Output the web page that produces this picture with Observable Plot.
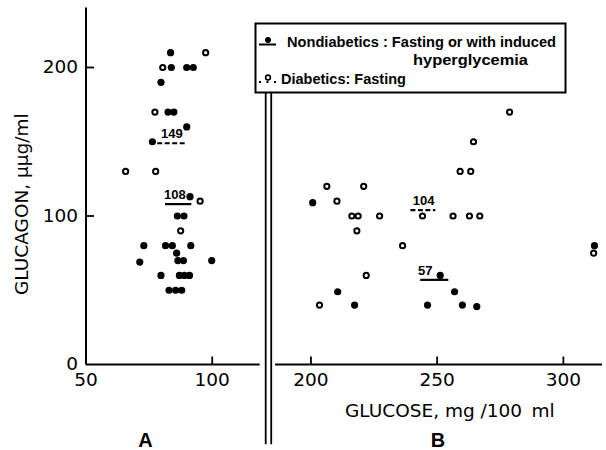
<!DOCTYPE html>
<html><head><meta charset="utf-8">
<script src="https://cdn.jsdelivr.net/npm/d3@7"></script>
<script src="https://cdn.jsdelivr.net/npm/@observablehq/plot@0.6"></script>
<style>
html,body{margin:0;padding:0;background:#fff;}
#chart{position:relative;width:606px;height:450px;overflow:hidden;}
#legend{position:absolute;left:0;top:0;pointer-events:none;}
</style></head><body><div id="chart"></div>
<script>
// ---- Data: [glucose mg/100 ml, glucagon µµg/ml] ----
// Panel A (fasting / induced hyperglycemia)
const nondiabeticA = [[83.5,210],[83.8,200],[89.9,200],[92.5,200],[79.7,190],[82.5,170],[84.8,170],[89.9,160],[76.3,150],
  [91.2,113],[86.2,100],[88.8,100],[72.9,80],[81.5,80],[84.2,80],[91.5,80],[85.9,75],[71.3,69],[86.4,70],[88.6,70],[99.8,70],
  [79.7,60],[87,60],[89,60],[91,60],[82.9,50],[85.5,50],[87.9,50]];
const diabeticA = [[97.4,210],[80.4,200],[77.3,170],[65.7,130],[77.6,130],[95.2,110],[87.5,90]];
// Panel B
const nondiabeticB = [[200.7,109],[210.6,49],[217.3,40],[246.2,40],[251.2,60],[256.9,49],[260,40],[265.7,39],[312.3,80]];
const diabeticB = [[206.3,120],[220.9,120],[210.3,110],[216.2,100],[218.7,100],[227.2,100],[218.2,90],[236.3,80],[221.9,60],
  [203.4,40],[244.2,100],[278.7,170],[264.4,150],[259.1,130],[263.3,130],[256.3,100],[262.8,100],[266.9,100],[312,75]];

// Group means
const meanValues = [149, 108, 104, 57];
const meanGroups = ["diabetic", "nondiabetic", "diabetic", "nondiabetic"];
const meanX1 = [78.4, 81.5, 239.6, 243.5];
const meanX2 = [89.5, 91.9, 249.5, 254.6];
const meanLabelX = [84, 85.2, 244.6, 245.3];

// Axes
const xTicks = [100, 200, 250, 300];
const xTickLabels = [50, 100, 200, 250, 300];
const yTicks = [100, 200];
const yTickLabels = [0, 100, 200];
const panelA = [50, 119];
const panelB = [186, 315.5];
const breakX = [143, 167];
const panelLetters = ["A", "B"];
const panelLetterX = [73.6, 250.3];
const xTitle = "GLUCOSE, mg /100\u2002ml";
const yTitle = "GLUCAGON, \u03bc\u03bcg/ml";
const legendRows = ["Nondiabetics : Fasting or with induced", "hyperglycemia", "Diabetics: Fasting"];

// broken axis: the gap between panel A and panel B is squeezed to a narrow strip
const gapWidth = 6.1;
const brk = g => g <= panelA[1] ? g
  : g < panelB[0] ? panelA[1] + (g - panelA[1]) * gapWidth / (panelB[0] - panelA[1])
  : g - (panelB[0] - panelA[1] - gapWidth);

const means = meanValues.map((v, i) => ({value: v, group: meanGroups[i], x1: meanX1[i], x2: meanX2[i], lx: meanLabelX[i]}));
const nondiabetic = nondiabeticA.concat(nondiabeticB);
const diabetic = diabeticA.concat(diabeticB);
const letters = panelLetters.map((t, i) => ({t, x: panelLetterX[i]}));
const segments = [{a: panelA[0], b: panelA[1]}, {a: panelB[0], b: panelB[1]}];

const tickUp = {draw(ctx) { ctx.moveTo(0, 0); ctx.lineTo(0, -8); }};
const tickRight = {draw(ctx) { ctx.moveTo(0, 0); ctx.lineTo(8, 0); }};

const font = "DejaVu Sans";
const plot = Plot.plot({
  width: 606, height: 450,
  marginLeft: 85.5, marginRight: 4, marginTop: 7.6, marginBottom: 86,
  style: {fontFamily: font, background: "white", color: "black", overflow: "visible"},
  x: {axis: null, domain: [brk(panelA[0]), brk(panelB[1])], range: [85.5, 602]},
  y: {axis: null, domain: [0, 240], range: [364, 7.6]},
  marks: [
    // axes
    Plot.ruleX([panelA[0]], {x: d => brk(d), y1: 0, y2: 240, stroke: "black", strokeWidth: 2}),
    Plot.ruleY(segments, {y: 0, x1: d => brk(d.a), x2: d => brk(d.b), stroke: "black", strokeWidth: 2}),
    Plot.ruleX(breakX, {x: d => brk(d), y1: -54, y2: 188, stroke: "black", strokeWidth: 1.8}),
    Plot.dot(xTicks, {x: d => brk(d), y: 0, symbol: tickUp, fill: "none", stroke: "black", strokeWidth: 1.8}),
    Plot.dot(yTicks, {x: brk(panelA[0]), y: d => d, symbol: tickRight, fill: "none", stroke: "black", strokeWidth: 1.8}),
    Plot.text(yTickLabels, {x: brk(panelA[0]), y: d => d, text: d => String(d), textAnchor: "end", dx: -8, fontSize: 18.5}),
    Plot.text(xTickLabels, {x: d => brk(d), y: 0, text: d => String(d), dy: 16, fontSize: 18.5}),
    Plot.text([xTitle], {x: brk(255), y: 0, text: d => d, dy: 47, fontSize: 18.5}),
    Plot.text([yTitle], {x: brk(panelA[0]), y: 108, text: d => d, dx: -64, rotate: -90, fontSize: 18.5}),
    Plot.text(letters, {x: d => brk(d.x), y: 0, text: "t", dy: 76, fontSize: 20, fontWeight: "bold", fontFamily: "Liberation Sans"}),
    // mean lines
    Plot.ruleY(means.filter(d => d.group === "nondiabetic"), {y: "value", x1: d => brk(d.x1), x2: d => brk(d.x2), stroke: "black", strokeWidth: 2.2}),
    Plot.ruleY(means.filter(d => d.group === "diabetic"), {y: "value", x1: d => brk(d.x1), x2: d => brk(d.x2), stroke: "black", strokeWidth: 2.2, strokeDasharray: "5,2.5"}),
    Plot.text(means, {x: d => brk(d.lx), y: "value", text: d => String(d.value), dy: -9, fontSize: 13, fontWeight: "bold", fontFamily: "Liberation Sans"}),
    // points
    Plot.dot(diabetic, {x: d => brk(d[0]), y: d => d[1], r: 2.6, fill: "white", stroke: "black", strokeWidth: 2}),
    Plot.dot(nondiabetic, {x: d => brk(d[0]), y: d => d[1], r: 3.6, fill: "black", stroke: "none"})
  ]
});
const chart = document.getElementById("chart");
chart.appendChild(plot);

// legend overlay
const lg = d3.select(chart).append("svg").attr("id", "legend").attr("width", 606).attr("height", 450);
lg.append("rect").attr("x", 255.5).attr("y", 23.5).attr("width", 310).attr("height", 69)
  .attr("fill", "white").attr("stroke", "black").attr("stroke-width", 2);
lg.append("line").attr("x1", 259).attr("x2", 276).attr("y1", 44.5).attr("y2", 44.5).attr("stroke", "black").attr("stroke-width", 2);
lg.append("circle").attr("cx", 268).attr("cy", 40).attr("r", 3).attr("fill", "black");
lg.append("line").attr("x1", 259).attr("x2", 277).attr("y1", 82).attr("y2", 82).attr("stroke", "black").attr("stroke-width", 2).attr("stroke-dasharray", "2,5.5");
lg.append("circle").attr("cx", 268).attr("cy", 77.5).attr("r", 2.4).attr("fill", "white").attr("stroke", "black").attr("stroke-width", 1.6);
const rowPos = [[287, 46.5, 269], [413, 64.5, 115], [281, 84, null]];
legendRows.forEach((t, i) => {
  const tx = lg.append("text").attr("x", rowPos[i][0]).attr("y", rowPos[i][1]).text(t)
    .attr("font-family", "Liberation Sans").attr("font-weight", "bold").attr("font-size", 14.5).attr("fill", "black");
  if (rowPos[i][2]) tx.attr("textLength", rowPos[i][2]).attr("lengthAdjust", "spacingAndGlyphs");
});
</script></body></html>
